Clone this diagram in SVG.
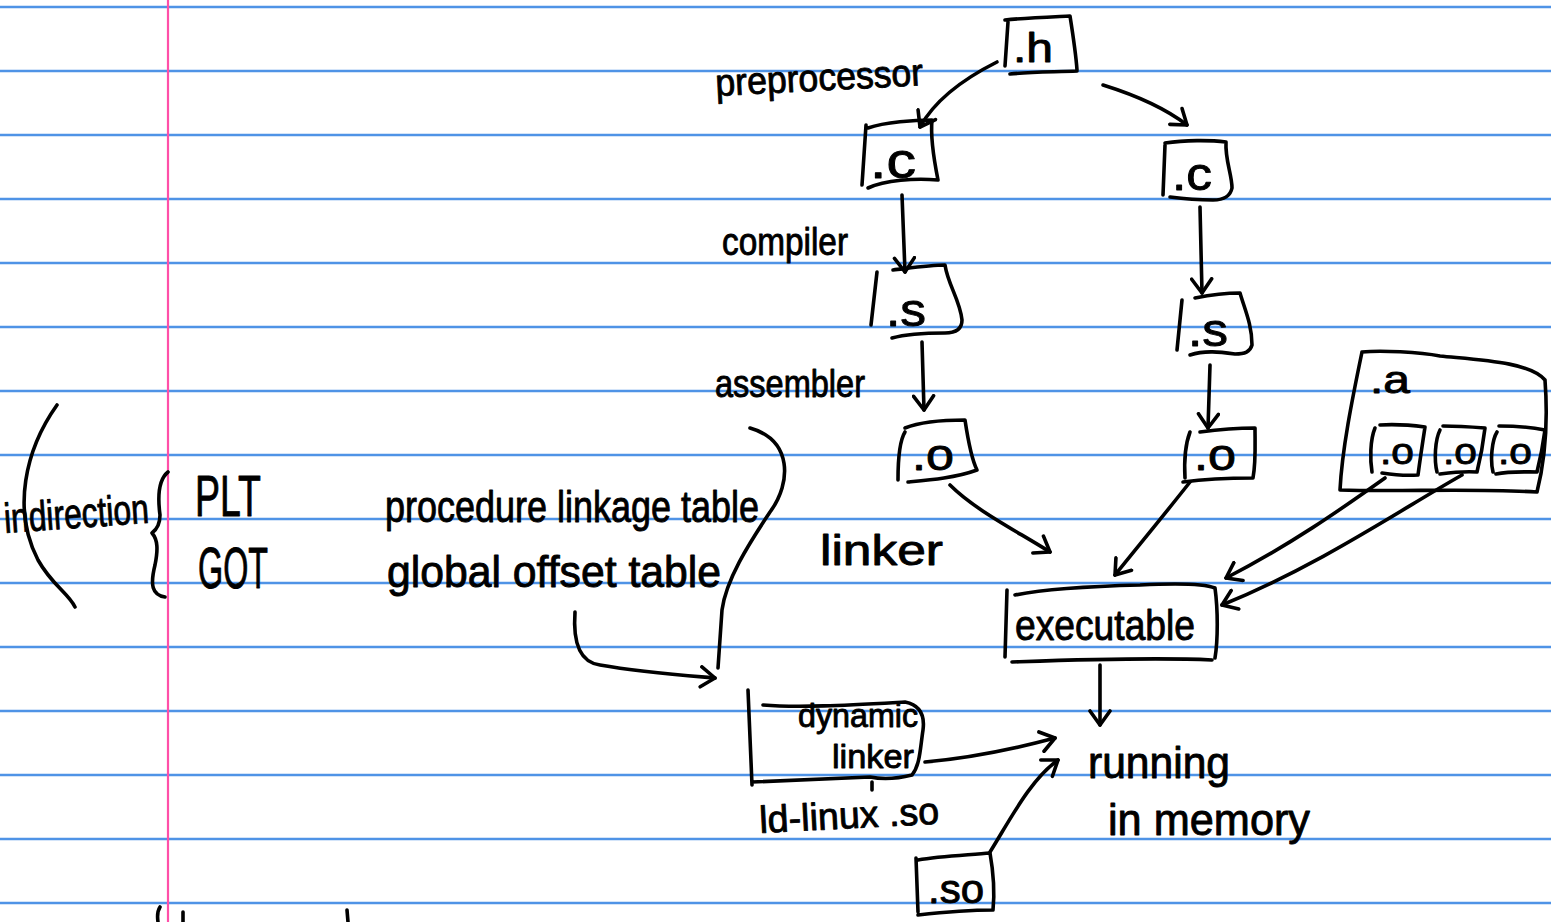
<svg xmlns="http://www.w3.org/2000/svg" width="1551" height="922" viewBox="0 0 1551 922">
  <defs>
    <style>
      .rule { stroke: #4f93e6; stroke-width: 2.5; }
      .margin { stroke: #ff4fa8; stroke-width: 2.2; }
      .pen { fill: none; stroke: #000; stroke-width: 3.6; stroke-linecap: round; stroke-linejoin: round; }
      .hand { font-family: "Liberation Sans Narrow", "Liberation Sans", sans-serif; fill: #000; stroke: #000; stroke-width: 0.9; stroke-linejoin: round; }
    </style>
    <marker id="head" viewBox="-16 -12 19 24" refX="0" refY="0" markerWidth="19" markerHeight="24" orient="auto" markerUnits="userSpaceOnUse">
      <path d="M-14,-10 L0,0 L-14,10" fill="none" stroke="#000" stroke-width="3.6" stroke-linecap="round" stroke-linejoin="round"/>
    </marker>
  </defs>

  <!-- ruled paper -->
  <rect width="1551" height="922" fill="#fff"/>
  <g id="paper">
    <line class="rule" x1="0" y1="7" x2="1551" y2="7"/>
    <line class="rule" x1="0" y1="71" x2="1551" y2="71"/>
    <line class="rule" x1="0" y1="135" x2="1551" y2="135"/>
    <line class="rule" x1="0" y1="199" x2="1551" y2="199"/>
    <line class="rule" x1="0" y1="263" x2="1551" y2="263"/>
    <line class="rule" x1="0" y1="327" x2="1551" y2="327"/>
    <line class="rule" x1="0" y1="391" x2="1551" y2="391"/>
    <line class="rule" x1="0" y1="455" x2="1551" y2="455"/>
    <line class="rule" x1="0" y1="519" x2="1551" y2="519"/>
    <line class="rule" x1="0" y1="583" x2="1551" y2="583"/>
    <line class="rule" x1="0" y1="647" x2="1551" y2="647"/>
    <line class="rule" x1="0" y1="711" x2="1551" y2="711"/>
    <line class="rule" x1="0" y1="775" x2="1551" y2="775"/>
    <line class="rule" x1="0" y1="839" x2="1551" y2="839"/>
    <line class="rule" x1="0" y1="903" x2="1551" y2="903"/>
    <line class="margin" x1="168" y1="0" x2="168" y2="922"/>
  </g>

  <!-- stage labels -->
  <g id="labels">
    <text class="hand" x="716" y="96" font-size="38" textLength="208" lengthAdjust="spacingAndGlyphs" transform="rotate(-3 716 96)">preprocessor</text>
    <text class="hand" x="722" y="255" font-size="38" textLength="126" lengthAdjust="spacingAndGlyphs">compiler</text>
    <text class="hand" x="715" y="397" font-size="38" textLength="150" lengthAdjust="spacingAndGlyphs">assembler</text>
    <text class="hand" x="820" y="565" font-size="42" textLength="123" lengthAdjust="spacingAndGlyphs">linker</text>
  </g>

  <!-- notes on the left -->
  <g id="notes">
    <text class="hand" x="5" y="533" font-size="42" textLength="145" lengthAdjust="spacingAndGlyphs" transform="rotate(-4 5 533)">indirection</text>
    <text class="hand" x="195" y="516" font-size="58" textLength="66" lengthAdjust="spacingAndGlyphs">PLT</text>
    <text class="hand" x="198" y="588" font-size="58" textLength="70" lengthAdjust="spacingAndGlyphs">GOT</text>
    <text class="hand" x="385" y="522" font-size="44" textLength="374" lengthAdjust="spacingAndGlyphs">procedure linkage table</text>
    <text class="hand" x="387" y="587" font-size="44" textLength="334" lengthAdjust="spacingAndGlyphs">global offset table</text>
    <path class="pen" d="M57,405 C25,450 12,510 38,560 C52,585 68,593 75,607"/>
    <path class="pen" d="M168,472 C158,480 158,500 160,515 C160,525 156,530 152,533 C158,540 158,550 155,565 C150,585 152,595 165,597"/>
    <path class="pen" d="M750,428 C792,440 792,482 770,512 C748,545 726,580 722,610 L718,668"/>
    <path class="pen" d="M158,922 C157,915 158,910 160,907"/>
    <path class="pen" d="M183,912 L183,922"/>
    <path class="pen" d="M347,910 L348,922"/>
  </g>

  <!-- files -->
  <g id="node-h">
    <path class="pen" d="M1008,22 L1005,66 M1005,20 C1025,18 1050,17 1070,16 C1073,35 1076,55 1077,70 M1010,74 C1030,72 1055,72 1077,71"/>
    <text class="hand" x="1013" y="62" font-size="40" textLength="40" lengthAdjust="spacingAndGlyphs">.h</text>
  </g>
  <g id="node-c-left">
    <path class="pen" d="M866,125 L862,185 M868,128 C885,122 915,120 932,120 C930,140 935,165 938,180 M868,188 C885,180 915,178 938,180"/>
    <text class="hand" x="870" y="178" font-size="50" textLength="46" lengthAdjust="spacingAndGlyphs">.c</text>
  </g>
  <g id="node-c-right">
    <path class="pen" d="M1165,145 L1163,195 M1165,143 C1185,140 1210,140 1226,142 C1225,160 1232,175 1232,188 C1230,198 1220,200 1213,200 M1170,197 C1185,199 1205,200 1213,200"/>
    <text class="hand" x="1172" y="190" font-size="46" textLength="40" lengthAdjust="spacingAndGlyphs">.c</text>
  </g>
  <g id="node-s-left">
    <path class="pen" d="M877,272 L871,325 M893,270 C910,268 930,265 945,265 C948,285 960,300 962,320 C962,330 955,333 945,333 M892,338 C910,333 930,333 945,333"/>
    <text class="hand" x="886" y="326" font-size="46" textLength="40" lengthAdjust="spacingAndGlyphs">.s</text>
  </g>
  <g id="node-s-right">
    <path class="pen" d="M1182,300 L1177,350 M1195,298 C1210,295 1225,293 1240,293 C1245,310 1252,325 1252,345 C1250,352 1245,354 1235,354 M1190,355 C1205,350 1220,352 1235,354"/>
    <text class="hand" x="1188" y="346" font-size="46" textLength="40" lengthAdjust="spacingAndGlyphs">.s</text>
  </g>
  <g id="node-o-left">
    <path class="pen" d="M905,432 C900,440 898,455 898,480 M905,428 C920,422 940,420 965,420 C968,440 972,460 977,470 M908,482 C930,480 955,478 977,470"/>
    <text class="hand" x="912" y="470" font-size="44" textLength="42" lengthAdjust="spacingAndGlyphs">.o</text>
  </g>
  <g id="node-o-right">
    <path class="pen" d="M1190,432 C1185,445 1184,460 1185,478 M1200,432 C1215,430 1240,428 1255,428 C1255,445 1256,462 1253,478 M1183,482 C1205,479 1230,478 1253,478"/>
    <text class="hand" x="1194" y="470" font-size="44" textLength="42" lengthAdjust="spacingAndGlyphs">.o</text>
  </g>
  <g id="node-archive">
    <path class="pen" d="M1362,352 C1352,400 1342,450 1340,490 M1362,352 C1380,350 1420,352 1440,356 C1480,360 1530,362 1545,380 C1548,420 1545,460 1537,492 M1340,490 C1400,492 1470,488 1537,492"/>
    <text class="hand" x="1370" y="393" font-size="38" textLength="40" lengthAdjust="spacingAndGlyphs">.a</text>
    <path class="pen" d="M1375,428 C1370,440 1370,460 1372,472 M1380,425 C1395,424 1410,425 1425,427 C1423,440 1420,460 1418,475 M1382,473 C1395,475 1405,476 1418,475"/>
    <text class="hand" x="1380" y="464" font-size="36" textLength="34" lengthAdjust="spacingAndGlyphs">.o</text>
    <path class="pen" d="M1440,430 C1435,440 1434,460 1437,472 M1443,426 C1458,426 1472,427 1485,428 C1483,445 1480,460 1477,472 M1440,474 C1455,472 1465,471 1477,472"/>
    <text class="hand" x="1443" y="464" font-size="36" textLength="34" lengthAdjust="spacingAndGlyphs">.o</text>
    <path class="pen" d="M1497,432 C1492,440 1490,460 1493,472 M1499,426 C1515,426 1530,427 1545,430 C1543,445 1540,460 1537,472 M1496,474 C1510,471 1525,472 1537,472"/>
    <text class="hand" x="1498" y="464" font-size="36" textLength="34" lengthAdjust="spacingAndGlyphs">.o</text>
  </g>
  <g id="node-executable">
    <path class="pen" d="M1007,590 L1005,657 M1015,595 C1050,588 1100,586 1140,585 C1180,583 1205,584 1215,588 C1218,610 1218,640 1215,658 M1012,662 C1070,660 1150,657 1212,660"/>
    <text class="hand" x="1015" y="640" font-size="42" textLength="180" lengthAdjust="spacingAndGlyphs">executable</text>
  </g>
  <g id="node-dynamic-linker">
    <path class="pen" d="M748,690 L752,785 M763,705 C800,708 850,705 905,702 C920,705 925,715 923,730 C920,750 920,765 912,775 M752,782 C800,780 840,778 870,777 C885,780 900,778 912,775 M872,782 L872,790"/>
    <text class="hand" x="798" y="727" font-size="34" textLength="120" lengthAdjust="spacingAndGlyphs">dynamic</text>
    <text class="hand" x="832" y="768" font-size="34" textLength="82" lengthAdjust="spacingAndGlyphs">linker</text>
    <text class="hand" x="760" y="833" font-size="38" textLength="180" lengthAdjust="spacingAndGlyphs" transform="rotate(-3 760 833)">ld-linux .so</text>
  </g>
  <g id="node-running">
    <text class="hand" x="1088" y="778" font-size="44" textLength="142" lengthAdjust="spacingAndGlyphs">running</text>
    <text class="hand" x="1108" y="835" font-size="44" textLength="202" lengthAdjust="spacingAndGlyphs">in memory</text>
  </g>
  <g id="node-so">
    <path class="pen" d="M916,858 L918,912 M918,860 C940,856 970,855 990,853 C993,870 995,890 993,910 M918,915 C945,912 970,910 993,910"/>
    <text class="hand" x="928" y="903" font-size="40" textLength="56" lengthAdjust="spacingAndGlyphs">.so</text>
  </g>

  <!-- connectors -->
  <g id="connectors">
    <path class="pen" marker-end="url(#head)" d="M997,62 C965,78 935,100 920,127"/>
    <path class="pen" marker-end="url(#head)" d="M1103,85 C1135,95 1165,108 1187,125"/>
    <path class="pen" marker-end="url(#head)" d="M902,195 L905,272"/>
    <path class="pen" marker-end="url(#head)" d="M1200,207 L1202,293"/>
    <path class="pen" marker-end="url(#head)" d="M922,342 L924,410"/>
    <path class="pen" marker-end="url(#head)" d="M1210,365 L1208,428"/>
    <path class="pen" marker-end="url(#head)" d="M950,485 C975,510 1015,530 1050,552"/>
    <path class="pen" marker-end="url(#head)" d="M1190,482 C1160,520 1135,550 1115,575"/>
    <path class="pen" marker-end="url(#head)" d="M1385,478 C1340,510 1290,545 1226,578"/>
    <path class="pen" marker-end="url(#head)" d="M1462,475 C1400,510 1320,565 1222,605"/>
    <path class="pen" marker-end="url(#head)" d="M1100,665 L1100,725"/>
    <path class="pen" marker-end="url(#head)" d="M925,762 C970,758 1010,750 1055,738"/>
    <path class="pen" marker-end="url(#head)" d="M990,852 C1010,820 1030,780 1058,760"/>
    <path class="pen" marker-end="url(#head)" d="M575,612 C573,640 578,662 600,665 C640,672 680,675 715,678"/>
  </g>
</svg>
